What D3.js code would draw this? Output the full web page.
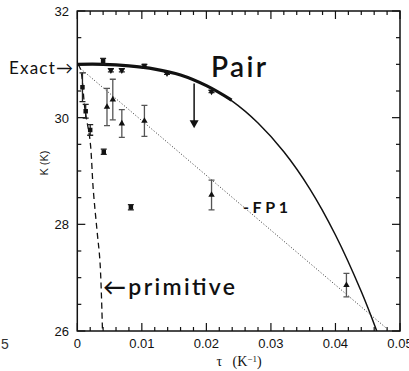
<!DOCTYPE html>
<html><head><meta charset="utf-8">
<script src="https://cdn.jsdelivr.net/npm/d3@7"></script>
<style>body{margin:0;background:#fff}svg{display:block}</style>
</head><body><svg id="c" width="409" height="371"></svg>
<script>
// ---- data ----
const xTicks = [0, 0.01, 0.02, 0.03, 0.04, 0.05];
const xTickLabels = ["0", "0.01", "0.02", "0.03", "0.04", "0.05"];
const yTicks = [26, 28, 30, 32];
const yTickLabels = ["26", "28", "30", "32"];

// Pair curve (solid), thick part up to tau ~0.024
const pairTau = [0, 0.004, 0.008, 0.012, 0.016, 0.020, 0.024, 0.028, 0.032, 0.036, 0.040, 0.044, 0.0464];
const pairK   = [31.0, 31.0, 30.97, 30.91, 30.80, 30.60, 30.31, 29.90, 29.36, 28.67, 27.80, 26.74, 26.0];
const pairThickEnd = 0.0239;

// FP1 line (dotted)
const fp1Tau = [0.0005, 0.0484];
const fp1K   = [30.92, 26.0];

// primitive line (dashed)
const primTau = [0.0001, 0.0005, 0.0012, 0.00197, 0.00248, 0.00305, 0.00352, 0.0039];
const primK   = [31.0, 30.91, 30.14, 29.58, 28.64, 27.89, 27.29, 26.0];

// Pair Monte Carlo points
const pairPtTau = [0.0040, 0.0052, 0.0069, 0.0104, 0.0139, 0.0208];
const pairPtK   = [31.06, 30.89, 30.89, 30.97, 30.83, 30.49];
const pairPtErr = [0.05, 0.03, 0.03, 0.03, 0.02, 0.02];

// primitive points (squares)
const primPtTau = [0.0008, 0.0013, 0.0020, 0.0041, 0.0083];
const primPtK   = [30.57, 30.12, 29.77, 29.36, 28.32];
const primPtErr = [0.27, 0.13, 0.10, 0.05, 0.05];

// FP1 points (triangles)
const fp1PtTau = [0.0046, 0.0055, 0.0069, 0.0104, 0.0208, 0.0417];
const fp1PtK   = [30.20, 30.34, 29.89, 29.94, 28.55, 26.86];
const fp1PtErr = [0.35, 0.38, 0.26, 0.29, 0.28, 0.22];

// downward arrow
const arrowTau = 0.0181;
const arrowK = [30.64, 29.80];

// ---- drawing ----
const svg = d3.select("#c");
const x = d3.scaleLinear().domain([0, 0.05]).range([77.3, 400]);
const y = d3.scaleLinear().domain([26, 32]).range([331, 11]);
const ink = "#111";

// frame
svg.append("rect").attr("x", x(0)).attr("y", y(32)).attr("width", x(0.05) - x(0)).attr("height", y(26) - y(32))
  .attr("fill", "none").attr("stroke", ink).attr("stroke-width", 1.5);

const xMinor = d3.range(0, 0.0501, 0.002);
const yMinor = d3.range(26, 32.01, 0.5);
const isMajX = v => Math.abs(v * 100 - Math.round(v * 100)) < 1e-6;
const isMajY = v => Math.abs(v / 2 - Math.round(v / 2)) < 1e-6;

// ticks (inward) on all four sides
xMinor.forEach(v => {
  const L = isMajX(v) ? 8 : 4;
  svg.append("line").attr("x1", x(v)).attr("x2", x(v)).attr("y1", y(26)).attr("y2", y(26) - L).attr("stroke", ink).attr("stroke-width", 1.2);
  svg.append("line").attr("x1", x(v)).attr("x2", x(v)).attr("y1", y(32)).attr("y2", y(32) + L).attr("stroke", ink).attr("stroke-width", 1.2);
});
yMinor.forEach(v => {
  const L = isMajY(v) ? 8 : 4;
  svg.append("line").attr("x1", x(0)).attr("x2", x(0) + L).attr("y1", y(v)).attr("y2", y(v)).attr("stroke", ink).attr("stroke-width", 1.2);
  svg.append("line").attr("x1", x(0.05)).attr("x2", x(0.05) - L).attr("y1", y(v)).attr("y2", y(v)).attr("stroke", ink).attr("stroke-width", 1.2);
});

// tick labels
xTicks.forEach((v, i) => {
  svg.append("text").attr("x", x(v)).attr("y", 348).attr("text-anchor", "middle")
    .attr("font-family", "Liberation Sans, Arial, sans-serif").attr("font-size", 13).attr("fill", ink).text(xTickLabels[i]);
});
yTicks.forEach((v, i) => {
  svg.append("text").attr("x", 69).attr("y", y(v) + 5).attr("text-anchor", "end")
    .attr("font-family", "Liberation Sans, Arial, sans-serif").attr("font-size", 13).attr("fill", ink).text(yTickLabels[i]);
});

// axis titles
svg.append("text").attr("x", 239).attr("y", 366).attr("text-anchor", "middle")
  .attr("font-family", "Liberation Serif, serif").attr("font-size", 14).attr("fill", ink)
  .html('τ&#160;&#160;&#160;(K<tspan dy="-4" font-size="9">−1</tspan><tspan dy="4">)</tspan>');
svg.append("text").attr("transform", "translate(48,163) rotate(-90)").attr("text-anchor", "middle")
  .attr("font-family", "Liberation Sans, Arial, sans-serif").attr("font-size", 11).attr("fill", ink).text("K (K)");

// stray fragment from neighbouring figure
svg.append("text").attr("x", 1).attr("y", 349).attr("font-family", "Liberation Sans, Arial, sans-serif")
  .attr("font-size", 14).attr("fill", "#333").text("5");

const line = d3.line().x(d => x(d[0])).y(d => y(d[1])).curve(d3.curveCatmullRom);
svg.append("clipPath").attr("id", "pc").append("rect")
  .attr("x", x(0)).attr("y", y(32)).attr("width", x(0.05) - x(0)).attr("height", y(26) - y(32));
const g = svg.append("g").attr("clip-path", "url(#pc)");

// Pair curve
const pairData = pairTau.map((t, i) => [t, pairK[i]]);
g.append("path").attr("d", line(pairData)).attr("fill", "none").attr("stroke", ink).attr("stroke-width", 1.5);
const thick = pairData.filter(d => d[0] <= pairThickEnd);
g.append("path").attr("d", line(thick.concat([[pairThickEnd, 30.33]]))).attr("fill", "none").attr("stroke", ink).attr("stroke-width", 3.2);

// FP1 dotted
g.append("path").attr("d", d3.line().x(d => x(d[0])).y(d => y(d[1]))(fp1Tau.map((t, i) => [t, fp1K[i]])))
  .attr("fill", "none").attr("stroke", "#333").attr("stroke-width", 1).attr("stroke-dasharray", "1,2");

// primitive dashed
g.append("path").attr("d", line(primTau.map((t, i) => [t, primK[i]])))
  .attr("fill", "none").attr("stroke", ink).attr("stroke-width", 1.3).attr("stroke-dasharray", "6,4");

// error bars
function errBars(taus, ks, errs, col) {
  taus.forEach((t, i) => {
    const cx = x(t), y1 = y(ks[i] + errs[i]), y2 = y(ks[i] - errs[i]);
    g.append("line").attr("x1", cx).attr("x2", cx).attr("y1", y1).attr("y2", y2).attr("stroke", col).attr("stroke-width", 1.3);
    [y1, y2].forEach(yy => g.append("line").attr("x1", cx - 3).attr("x2", cx + 3).attr("y1", yy).attr("y2", yy).attr("stroke", col).attr("stroke-width", 1.3));
  });
}
errBars(primPtTau, primPtK, primPtErr, "#222");
errBars(fp1PtTau, fp1PtK, fp1PtErr, "#555");
errBars(pairPtTau, pairPtK, pairPtErr, "#222");

const sq = d3.symbol().type(d3.symbolSquare).size(20);
const tri = d3.symbol().type(d3.symbolTriangle).size(18);
primPtTau.forEach((t, i) => g.append("path").attr("d", sq()).attr("transform", `translate(${x(t)},${y(primPtK[i])})`).attr("fill", ink));
fp1PtTau.forEach((t, i) => g.append("path").attr("d", tri()).attr("transform", `translate(${x(t)},${y(fp1PtK[i])})`).attr("fill", ink));
pairPtTau.forEach((t, i) => g.append("path").attr("d", (i === 0 || i === 3) ? sq() : tri()).attr("transform", `translate(${x(t)},${y(pairPtK[i])}) rotate(${(i === 0 || i === 3) ? 0 : 180})`).attr("fill", ink));

// arrow
const ax = x(arrowTau), ay1 = y(arrowK[0]), ay2 = y(arrowK[1]);
g.append("line").attr("x1", ax).attr("x2", ax).attr("y1", ay1).attr("y2", ay2 - 6).attr("stroke", ink).attr("stroke-width", 1.5);
g.append("path").attr("d", `M${ax - 4.5},${ay2 - 8} L${ax + 4.5},${ay2 - 8} L${ax},${ay2} Z`).attr("fill", ink);

// handwritten annotations
const hand = "Lato, Open Sans, sans-serif";
svg.append("text").attr("x", 9).attr("y", 74).attr("font-family", hand).attr("font-size", 17)
  .attr("textLength", 64).attr("lengthAdjust", "spacing").attr("fill", ink).text("Exact→");
svg.append("text").attr("x", 211).attr("y", 77).attr("font-family", hand).attr("font-weight", 600).attr("font-size", 28)
  .attr("textLength", 55).attr("fill", ink).text("Pair");
svg.append("text").attr("x", 243).attr("y", 213).attr("font-family", hand).attr("font-weight", 700).attr("font-size", 16)
  .attr("textLength", 45).attr("fill", ink).text("-FP1");
svg.append("text").attr("x", 103).attr("y", 295).attr("font-family", hand).attr("font-weight", 600).attr("font-size", 23)
  .attr("textLength", 132).attr("lengthAdjust", "spacing").attr("fill", ink).text("←primitive");
</script></body></html>
